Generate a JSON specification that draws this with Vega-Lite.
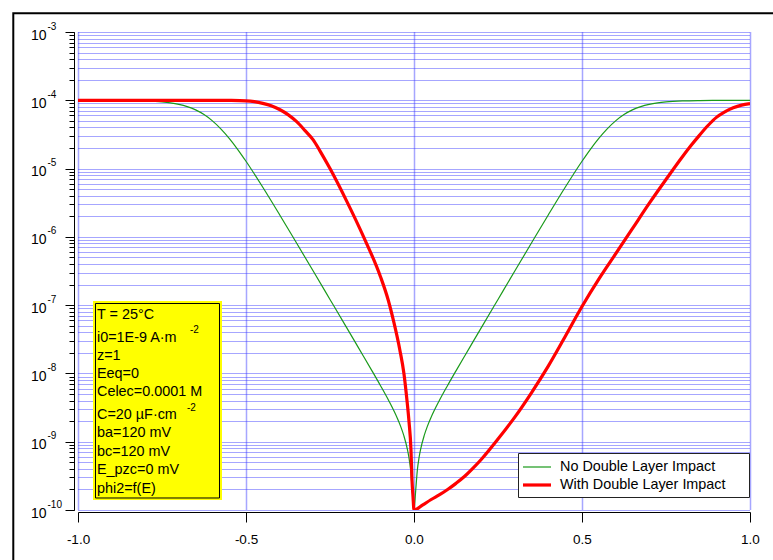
{
  "$schema": "https://vega.github.io/schema/vega-lite/v6.json",
  "width": 672,
  "height": 478,
  "autosize": {"type": "none"},
  "padding": {"left": 78, "top": 32, "right": 23, "bottom": 50},
  "background": "white",
  "data": {"values": [{}]},
  "config": {
    "view": {"stroke": null},
    "font": "Liberation Sans",
    "axis": {"labelFont": "Liberation Sans", "labelColor": "black", "tickColor": "black", "domainColor": "black", "labelOverlap": false, "titleFont": "Liberation Sans"}
  },
  "resolve": {"axis": {"y": "independent"}},
  "layer": [
    {
      "mark": {"type": "rect", "filled": false, "stroke": "black", "strokeWidth": 2, "clip": false},
      "encoding": {
        "x": {"datum": -1.1926, "type": "quantitative", "scale": {"domain": [-1, 1], "nice": false, "zero": false},
          "axis": {"orient": "bottom", "values": [-1, -0.5, 0, 0.5, 1], "labelExpr": "(datum.value < 0 ? '-' : '') + format(abs(datum.value), '.1f')", "offset": 2, "tickSize": 10, "tickWidth": 1, "labelFontSize": 13.5, "labelPadding": 10, "labelFlush": false, "grid": true, "gridColor": "#3a3aff", "gridDash": [1, 1], "gridOpacity": 0.9, "gridWidth": 1.5, "domain": true, "ticks": true, "labels": true, "title": null}},
        "x2": {"datum": 1.3},
        "y": {"datum": 0.001878, "type": "quantitative", "scale": {"type": "log", "domain": [1e-10, 0.001], "nice": false},
          "axis": {"orient": "left", "offset": 4, "values": [1e-10,2e-10,3e-10,4e-10,5e-10,6e-10,7e-10,8e-10,9e-10,1e-9,2e-9,3e-9,4e-9,5e-9,6e-9,7e-9,8e-9,9e-9,1e-8,2e-8,3e-8,4e-8,5e-8,6e-8,7e-8,8e-8,9e-8,1e-7,2e-7,3e-7,4e-7,5e-7,6e-7,7e-7,8e-7,9e-7,1e-6,2e-6,3e-6,4e-6,5e-6,6e-6,7e-6,8e-6,9e-6,1e-5,2e-5,3e-5,4e-5,5e-5,6e-5,7e-5,8e-5,9e-5,1e-4,2e-4,3e-4,4e-4,5e-4,6e-4,7e-4,8e-4,9e-4,1e-3],
            "tickSize": 5, "tickWidth": 1, "labels": false, "domain": false, "grid": true, "gridColor": "#3a3aff", "gridDash": [1, 1], "gridOpacity": 0.9, "gridWidth": 1.1, "title": null}},
        "y2": {"datum": 1e-12}
      }
    },
    {
      "mark": {"type": "rect", "fill": "#ffff00", "clip": false},
      "encoding": {
        "x": {"datum": -0.95536, "type": "quantitative"},
        "x2": {"datum": -0.57143},
        "y": {"datum": 1.150e-7, "type": "quantitative", "axis": null},
        "y2": {"datum": 1.401e-10}
      }
    },
    {
      "mark": {"type": "rect", "fill": "#ffff00", "stroke": "black", "strokeWidth": 1, "clip": false},
      "encoding": {
        "x": {"datum": -0.94792, "type": "quantitative"},
        "x2": {"datum": -0.57887},
        "y": {"datum": 1.057e-7, "type": "quantitative", "axis": null},
        "y2": {"datum": 1.499e-10}
      }
    },
    {
      "data": {"values": [
        {"E": -1.0, "i": 1.0e-4, "series": "No Double Layer Impact"},
        {"E": -0.95, "i": 9.99e-5, "series": "No Double Layer Impact"},
        {"E": -0.9, "i": 9.968e-5, "series": "No Double Layer Impact"},
        {"E": -0.85, "i": 9.918e-5, "series": "No Double Layer Impact"},
        {"E": -0.8, "i": 9.789e-5, "series": "No Double Layer Impact"},
        {"E": -0.75, "i": 9.468e-5, "series": "No Double Layer Impact"},
        {"E": -0.725, "i": 9.167e-5, "series": "No Double Layer Impact"},
        {"E": -0.7, "i": 8.72e-5, "series": "No Double Layer Impact"},
        {"E": -0.675, "i": 8.083e-5, "series": "No Double Layer Impact"},
        {"E": -0.65, "i": 7.23e-5, "series": "No Double Layer Impact"},
        {"E": -0.625, "i": 6.177e-5, "series": "No Double Layer Impact"},
        {"E": -0.6, "i": 5.0e-5, "series": "No Double Layer Impact"},
        {"E": -0.575, "i": 3.823e-5, "series": "No Double Layer Impact"},
        {"E": -0.55, "i": 2.77e-5, "series": "No Double Layer Impact"},
        {"E": -0.525, "i": 1.917e-5, "series": "No Double Layer Impact"},
        {"E": -0.5, "i": 1.28e-5, "series": "No Double Layer Impact"},
        {"E": -0.45, "i": 5.324e-6, "series": "No Double Layer Impact"},
        {"E": -0.4, "i": 2.109e-6, "series": "No Double Layer Impact"},
        {"E": -0.35, "i": 8.186e-7, "series": "No Double Layer Impact"},
        {"E": -0.3, "i": 3.162e-7, "series": "No Double Layer Impact"},
        {"E": -0.25, "i": 1.2115e-7, "series": "No Double Layer Impact"},
        {"E": -0.2, "i": 4.64e-8, "series": "No Double Layer Impact"},
        {"E": -0.175, "i": 2.869e-8, "series": "No Double Layer Impact"},
        {"E": -0.15, "i": 1.773e-8, "series": "No Double Layer Impact"},
        {"E": -0.125, "i": 1.0916e-8, "series": "No Double Layer Impact"},
        {"E": -0.1, "i": 6.666e-9, "series": "No Double Layer Impact"},
        {"E": -0.075, "i": 3.98e-9, "series": "No Double Layer Impact"},
        {"E": -0.05, "i": 2.227e-9, "series": "No Double Layer Impact"},
        {"E": -0.04, "i": 1.69e-9, "series": "No Double Layer Impact"},
        {"E": -0.03, "i": 1.216e-9, "series": "No Double Layer Impact"},
        {"E": -0.02, "i": 7.865e-10, "series": "No Double Layer Impact"},
        {"E": -0.015, "i": 5.836e-10, "series": "No Double Layer Impact"},
        {"E": -0.01, "i": 3.861e-10, "series": "No Double Layer Impact"},
        {"E": -0.005, "i": 1.922e-10, "series": "No Double Layer Impact"},
        {"E": 0.0, "i": 1.0e-10, "series": "No Double Layer Impact"},
        {"E": 0.005, "i": 1.922e-10, "series": "No Double Layer Impact"},
        {"E": 0.01, "i": 3.861e-10, "series": "No Double Layer Impact"},
        {"E": 0.015, "i": 5.836e-10, "series": "No Double Layer Impact"},
        {"E": 0.02, "i": 7.865e-10, "series": "No Double Layer Impact"},
        {"E": 0.03, "i": 1.216e-9, "series": "No Double Layer Impact"},
        {"E": 0.04, "i": 1.69e-9, "series": "No Double Layer Impact"},
        {"E": 0.05, "i": 2.227e-9, "series": "No Double Layer Impact"},
        {"E": 0.075, "i": 3.98e-9, "series": "No Double Layer Impact"},
        {"E": 0.1, "i": 6.666e-9, "series": "No Double Layer Impact"},
        {"E": 0.125, "i": 1.0916e-8, "series": "No Double Layer Impact"},
        {"E": 0.15, "i": 1.773e-8, "series": "No Double Layer Impact"},
        {"E": 0.175, "i": 2.869e-8, "series": "No Double Layer Impact"},
        {"E": 0.2, "i": 4.64e-8, "series": "No Double Layer Impact"},
        {"E": 0.25, "i": 1.2115e-7, "series": "No Double Layer Impact"},
        {"E": 0.3, "i": 3.162e-7, "series": "No Double Layer Impact"},
        {"E": 0.35, "i": 8.186e-7, "series": "No Double Layer Impact"},
        {"E": 0.4, "i": 2.109e-6, "series": "No Double Layer Impact"},
        {"E": 0.45, "i": 5.324e-6, "series": "No Double Layer Impact"},
        {"E": 0.5, "i": 1.28e-5, "series": "No Double Layer Impact"},
        {"E": 0.525, "i": 1.917e-5, "series": "No Double Layer Impact"},
        {"E": 0.55, "i": 2.77e-5, "series": "No Double Layer Impact"},
        {"E": 0.575, "i": 3.823e-5, "series": "No Double Layer Impact"},
        {"E": 0.6, "i": 5.0e-5, "series": "No Double Layer Impact"},
        {"E": 0.625, "i": 6.177e-5, "series": "No Double Layer Impact"},
        {"E": 0.65, "i": 7.23e-5, "series": "No Double Layer Impact"},
        {"E": 0.675, "i": 8.083e-5, "series": "No Double Layer Impact"},
        {"E": 0.7, "i": 8.72e-5, "series": "No Double Layer Impact"},
        {"E": 0.725, "i": 9.167e-5, "series": "No Double Layer Impact"},
        {"E": 0.75, "i": 9.468e-5, "series": "No Double Layer Impact"},
        {"E": 0.8, "i": 9.789e-5, "series": "No Double Layer Impact"},
        {"E": 0.85, "i": 9.918e-5, "series": "No Double Layer Impact"},
        {"E": 0.9, "i": 9.968e-5, "series": "No Double Layer Impact"},
        {"E": 0.95, "i": 9.99e-5, "series": "No Double Layer Impact"},
        {"E": 1.0, "i": 1.0e-4, "series": "No Double Layer Impact"},
        {"E": -1.0, "i": 1.0e-4, "series": "With Double Layer Impact"},
        {"E": -0.9, "i": 1.0e-4, "series": "With Double Layer Impact"},
        {"E": -0.8, "i": 1.0e-4, "series": "With Double Layer Impact"},
        {"E": -0.7, "i": 1.0e-4, "series": "With Double Layer Impact"},
        {"E": -0.6, "i": 9.99e-5, "series": "With Double Layer Impact"},
        {"E": -0.55, "i": 9.95e-5, "series": "With Double Layer Impact"},
        {"E": -0.5, "i": 9.82e-5, "series": "With Double Layer Impact"},
        {"E": -0.475, "i": 9.55e-5, "series": "With Double Layer Impact"},
        {"E": -0.45, "i": 9.02e-5, "series": "With Double Layer Impact"},
        {"E": -0.425, "i": 8.32e-5, "series": "With Double Layer Impact"},
        {"E": -0.4, "i": 7.33e-5, "series": "With Double Layer Impact"},
        {"E": -0.375, "i": 6.17e-5, "series": "With Double Layer Impact"},
        {"E": -0.35, "i": 4.9e-5, "series": "With Double Layer Impact"},
        {"E": -0.325, "i": 3.63e-5, "series": "With Double Layer Impact"},
        {"E": -0.3, "i": 2.63e-5, "series": "With Double Layer Impact"},
        {"E": -0.28, "i": 1.82e-5, "series": "With Double Layer Impact"},
        {"E": -0.25, "i": 1.0e-5, "series": "With Double Layer Impact"},
        {"E": -0.2, "i": 3.31e-6, "series": "With Double Layer Impact"},
        {"E": -0.15, "i": 1.0e-6, "series": "With Double Layer Impact"},
        {"E": -0.1, "i": 2.63e-7, "series": "With Double Layer Impact"},
        {"E": -0.077, "i": 1.2e-7, "series": "With Double Layer Impact"},
        {"E": -0.06, "i": 5.62e-8, "series": "With Double Layer Impact"},
        {"E": -0.042, "i": 2.19e-8, "series": "With Double Layer Impact"},
        {"E": -0.03, "i": 1.0e-8, "series": "With Double Layer Impact"},
        {"E": -0.021, "i": 4.07e-9, "series": "With Double Layer Impact"},
        {"E": -0.015, "i": 2.0e-9, "series": "With Double Layer Impact"},
        {"E": -0.009, "i": 7.59e-10, "series": "With Double Layer Impact"},
        {"E": -0.006, "i": 2.75e-10, "series": "With Double Layer Impact"},
        {"E": -0.003, "i": 1.58e-10, "series": "With Double Layer Impact"},
        {"E": 0.0, "i": 1.0e-10, "series": "With Double Layer Impact"},
        {"E": 0.025, "i": 1.175e-10, "series": "With Double Layer Impact"},
        {"E": 0.05, "i": 1.413e-10, "series": "With Double Layer Impact"},
        {"E": 0.075, "i": 1.66e-10, "series": "With Double Layer Impact"},
        {"E": 0.1, "i": 1.995e-10, "series": "With Double Layer Impact"},
        {"E": 0.125, "i": 2.455e-10, "series": "With Double Layer Impact"},
        {"E": 0.15, "i": 3.09e-10, "series": "With Double Layer Impact"},
        {"E": 0.175, "i": 4.07e-10, "series": "With Double Layer Impact"},
        {"E": 0.2, "i": 5.5e-10, "series": "With Double Layer Impact"},
        {"E": 0.25, "i": 1.096e-9, "series": "With Double Layer Impact"},
        {"E": 0.3, "i": 2.29e-9, "series": "With Double Layer Impact"},
        {"E": 0.35, "i": 5.25e-9, "series": "With Double Layer Impact"},
        {"E": 0.4, "i": 1.288e-8, "series": "With Double Layer Impact"},
        {"E": 0.45, "i": 3.47e-8, "series": "With Double Layer Impact"},
        {"E": 0.5, "i": 9.55e-8, "series": "With Double Layer Impact"},
        {"E": 0.55, "i": 2.4e-7, "series": "With Double Layer Impact"},
        {"E": 0.6, "i": 5.62e-7, "series": "With Double Layer Impact"},
        {"E": 0.65, "i": 1.318e-6, "series": "With Double Layer Impact"},
        {"E": 0.7, "i": 3.09e-6, "series": "With Double Layer Impact"},
        {"E": 0.75, "i": 6.92e-6, "series": "With Double Layer Impact"},
        {"E": 0.8, "i": 1.514e-5, "series": "With Double Layer Impact"},
        {"E": 0.825, "i": 2.19e-5, "series": "With Double Layer Impact"},
        {"E": 0.85, "i": 3.09e-5, "series": "With Double Layer Impact"},
        {"E": 0.875, "i": 4.27e-5, "series": "With Double Layer Impact"},
        {"E": 0.9, "i": 5.62e-5, "series": "With Double Layer Impact"},
        {"E": 0.925, "i": 6.76e-5, "series": "With Double Layer Impact"},
        {"E": 0.95, "i": 7.76e-5, "series": "With Double Layer Impact"},
        {"E": 0.975, "i": 8.51e-5, "series": "With Double Layer Impact"},
        {"E": 1.0, "i": 8.91e-5, "series": "With Double Layer Impact"}
      ]},
      "mark": {"type": "line", "clip": true, "interpolate": "monotone", "strokeJoin": "round"},
      "encoding": {
        "x": {"field": "E", "type": "quantitative"},
        "y": {"field": "i", "type": "quantitative",
          "axis": {"orient": "left", "offset": 4, "values": [1e-10, 1e-9, 1e-8, 1e-7, 1e-6, 1e-5, 1e-4, 1e-3], "tickSize": 9, "tickWidth": 1, "labelExpr": "'10'", "labelFontSize": 14, "labelPadding": 19, "labelOffset": 3, "grid": false, "title": null}},
        "color": {"field": "series", "type": "nominal",
          "scale": {"domain": ["No Double Layer Impact", "With Double Layer Impact"], "range": ["#1a9a1a", "#ff0000"]},
          "legend": {"title": null, "orient": "none", "legendX": 440, "legendY": 421, "fillColor": "white", "strokeColor": "#222222", "padding": 5, "rowPadding": 1, "symbolType": "M-1.75,0H1.75", "symbolSize": 256, "symbolOffset": 4, "labelFontSize": 14.4, "labelOffset": 13, "labelColor": "black", "labelFont": "Liberation Sans", "labelLimit": 300, "labelExpr": "datum.label + '\u2007\u2800'"}},
        "strokeWidth": {"field": "series", "type": "nominal",
          "scale": {"type": "ordinal", "domain": ["No Double Layer Impact", "With Double Layer Impact"], "range": [1.2, 3.2]},
          "legend": {"title": null, "orient": "none", "legendX": 440, "legendY": 421, "fillColor": "white", "strokeColor": "#222222", "padding": 5, "rowPadding": 1, "symbolType": "M-1.75,0H1.75", "symbolSize": 256, "symbolOffset": 4, "labelFontSize": 14.4, "labelOffset": 13, "labelColor": "black", "labelFont": "Liberation Sans", "labelLimit": 300, "labelExpr": "datum.label + '\u2007\u2800'"}}
      }
    },
    {
      "mark": {"type": "text", "align": "left", "baseline": "top", "fontSize": 14.4, "font": "Liberation Sans", "color": "black", "clip": false},
      "encoding": {
        "x": {"datum": -0.94345, "type": "quantitative"},
        "y": {"datum": 9.08e-8, "type": "quantitative",
          "axis": {"orient": "left", "offset": 4, "values": [1e-10, 1e-9, 1e-8, 1e-7, 1e-6, 1e-5, 1e-4, 1e-3], "ticks": false, "tickSize": 0, "domain": false, "grid": false, "labelExpr": "'-' + round(-log(datum.value) / LN10)", "labelFontSize": 10, "labelPadding": 27, "labelOffset": -6, "labelAlign": "left", "title": null}},
        "text": {"value": "T = 25°C"}
      }
    },
    {
      "mark": {"type": "text", "align": "left", "baseline": "top", "fontSize": 14.4, "font": "Liberation Sans", "color": "black", "lineHeight": 18, "clip": false},
      "encoding": {
        "x": {"datum": -0.94345, "type": "quantitative"},
        "y": {"datum": 4.18e-8, "type": "quantitative", "axis": null},
        "text": {"value": ["i0=1E-9 A·m", "z=1", "Eeq=0", "Celec=0.0001 M"]}
      }
    },
    {
      "mark": {"type": "text", "align": "left", "baseline": "top", "fontSize": 14.4, "font": "Liberation Sans", "color": "black", "lineHeight": 18.5, "clip": false},
      "encoding": {
        "x": {"datum": -0.94345, "type": "quantitative"},
        "y": {"datum": 3.117e-9, "type": "quantitative", "axis": null},
        "text": {"value": ["C=20 µF·cm", "ba=120 mV", "bc=120 mV", "E_pzc=0 mV", "phi2=f(E)"]}
      }
    },
    {
      "mark": {"type": "text", "align": "left", "baseline": "middle", "fontSize": 10, "font": "Liberation Sans", "color": "black", "clip": false},
      "encoding": {
        "x": {"datum": -0.66667, "type": "quantitative"},
        "y": {"datum": 4.384e-8, "type": "quantitative", "axis": null},
        "text": {"value": "-2"}
      }
    },
    {
      "mark": {"type": "text", "align": "left", "baseline": "middle", "fontSize": 10, "font": "Liberation Sans", "color": "black", "clip": false},
      "encoding": {
        "x": {"datum": -0.6756, "type": "quantitative"},
        "y": {"datum": 3.159e-9, "type": "quantitative", "axis": null},
        "text": {"value": "-2"}
      }
    }
  ]
}
